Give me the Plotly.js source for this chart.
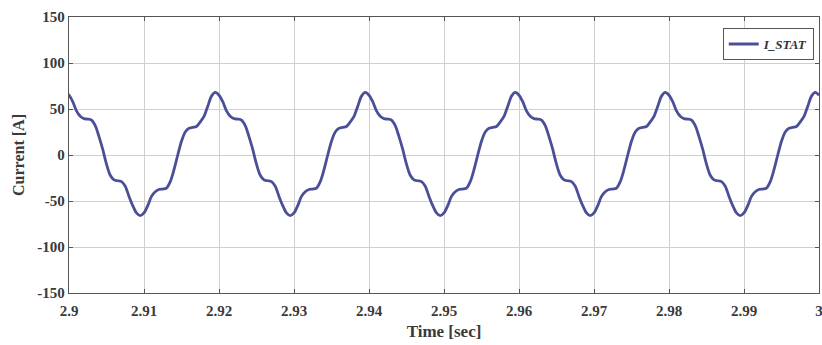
<!DOCTYPE html>
<html>
<head>
<meta charset="utf-8">
<script src="https://cdn.plot.ly/plotly-3.0.1.min.js"></script>
<style>html,body{margin:0;padding:0;background:#fff;}#chart{width:822px;height:345px;}</style>
</head>
<body>
<div id="chart"></div>
<script>
// Sampling of the current waveform
const tStart = 2.8995;   // first sample time [s]
const tStep = 0.0005;    // sample spacing [s]
const currentA = [
  68, 65, 58, 48, 42, 39.5, 39, 38, 32, 20, 6, -10, -22, -27, -28, -29, -34, -45, -55, -63,
  -66, -63, -55, -45, -40, -37.5, -37, -36, -29, -16, 0, 15, 25, 29, 30, 31, 36, 42, 53, 64,
  68, 65, 58, 48, 42, 39.5, 39, 38, 32, 20, 6, -10, -22, -27, -28, -29, -34, -45, -55, -63,
  -66, -63, -55, -45, -40, -37.5, -37, -36, -29, -16, 0, 15, 25, 29, 30, 31, 36, 42, 53, 64,
  68, 65, 58, 48, 42, 39.5, 39, 38, 32, 20, 6, -10, -22, -27, -28, -29, -34, -45, -55, -63,
  -66, -63, -55, -45, -40, -37.5, -37, -36, -29, -16, 0, 15, 25, 29, 30, 31, 36, 42, 53, 64,
  68, 65, 58, 48, 42, 39.5, 39, 38, 32, 20, 6, -10, -22, -27, -28, -29, -34, -45, -55, -63,
  -66, -63, -55, -45, -40, -37.5, -37, -36, -29, -16, 0, 15, 25, 29, 30, 31, 36, 42, 53, 64,
  68, 65, 58, 48, 42, 39.5, 39, 38, 32, 20, 6, -10, -22, -27, -28, -29, -34, -45, -55, -63,
  -66, -63, -55, -45, -40, -37.5, -37, -36, -29, -16, 0, 15, 25, 29, 30, 31, 36, 42, 53, 64,
  68, 65
];
const xTickVals = [2.9, 2.91, 2.92, 2.93, 2.94, 2.95, 2.96, 2.97, 2.98, 2.99, 3.0];
const xTickText = ['2.9', '2.91', '2.92', '2.93', '2.94', '2.95', '2.96', '2.97', '2.98', '2.99', '3'];
const yTickVals = [-150, -100, -50, 0, 50, 100, 150];
const yTickText = ['-150', '-100', '-50', '0', '50', '100', '150'];
const seriesName = 'I_STAT';

const timeS = currentA.map((_, i) => +(tStart + i * tStep).toFixed(5));
const bold = s => '<b>' + s + '</b>';

const serif = '"Liberation Serif", "DejaVu Serif", serif';

const trace = {
  x: timeS,
  y: currentA,
  type: 'scatter',
  mode: 'lines',
  name: '<b><i>' + seriesName + '</i></b>',
  line: {color: '#4a4f98', width: 2.8, shape: 'spline', smoothing: 0.8}
};

const axisCommon = {
  showline: true, mirror: 'ticks', linecolor: '#555', linewidth: 1.2,
  showgrid: true, gridcolor: '#cfcfcf', gridwidth: 1,
  zeroline: false, ticks: 'inside', ticklen: 4, tickcolor: '#555',
  ticklabeloverflow: 'allow',
  tickfont: {family: serif, size: 15, color: '#3a3a3a'}
};

const layout = {
  width: 822, height: 345,
  margin: {l: 69, r: 3, t: 17, b: 52},
  paper_bgcolor: '#fff', plot_bgcolor: '#fff',
  showlegend: true,
  legend: {
    x: 0.993, y: 0.96, xanchor: 'right', yanchor: 'top',
    bgcolor: '#fff', bordercolor: '#555', borderwidth: 1,
    font: {family: serif, size: 13, color: '#333'},
    tracegroupgap: 0, itemwidth: 30
  },
  xaxis: Object.assign({}, axisCommon, {
    range: [2.9, 3.0], tickvals: xTickVals, ticktext: xTickText.map(bold),
    ticklabelstandoff: 4,
    title: {text: '<b>Time [sec]</b>', font: {family: serif, size: 17, color: '#3a3a3a'}, standoff: 6}
  }),
  yaxis: Object.assign({}, axisCommon, {
    range: [-150, 150], tickvals: yTickVals, ticktext: yTickText.map(bold),
    title: {text: '<b>Current [A]</b>', font: {family: serif, size: 16, color: '#3a3a3a'}, standoff: 8}
  })
};

Plotly.newPlot('chart', [trace], layout, {staticPlot: true, displayModeBar: false});
</script>
</body>
</html>
